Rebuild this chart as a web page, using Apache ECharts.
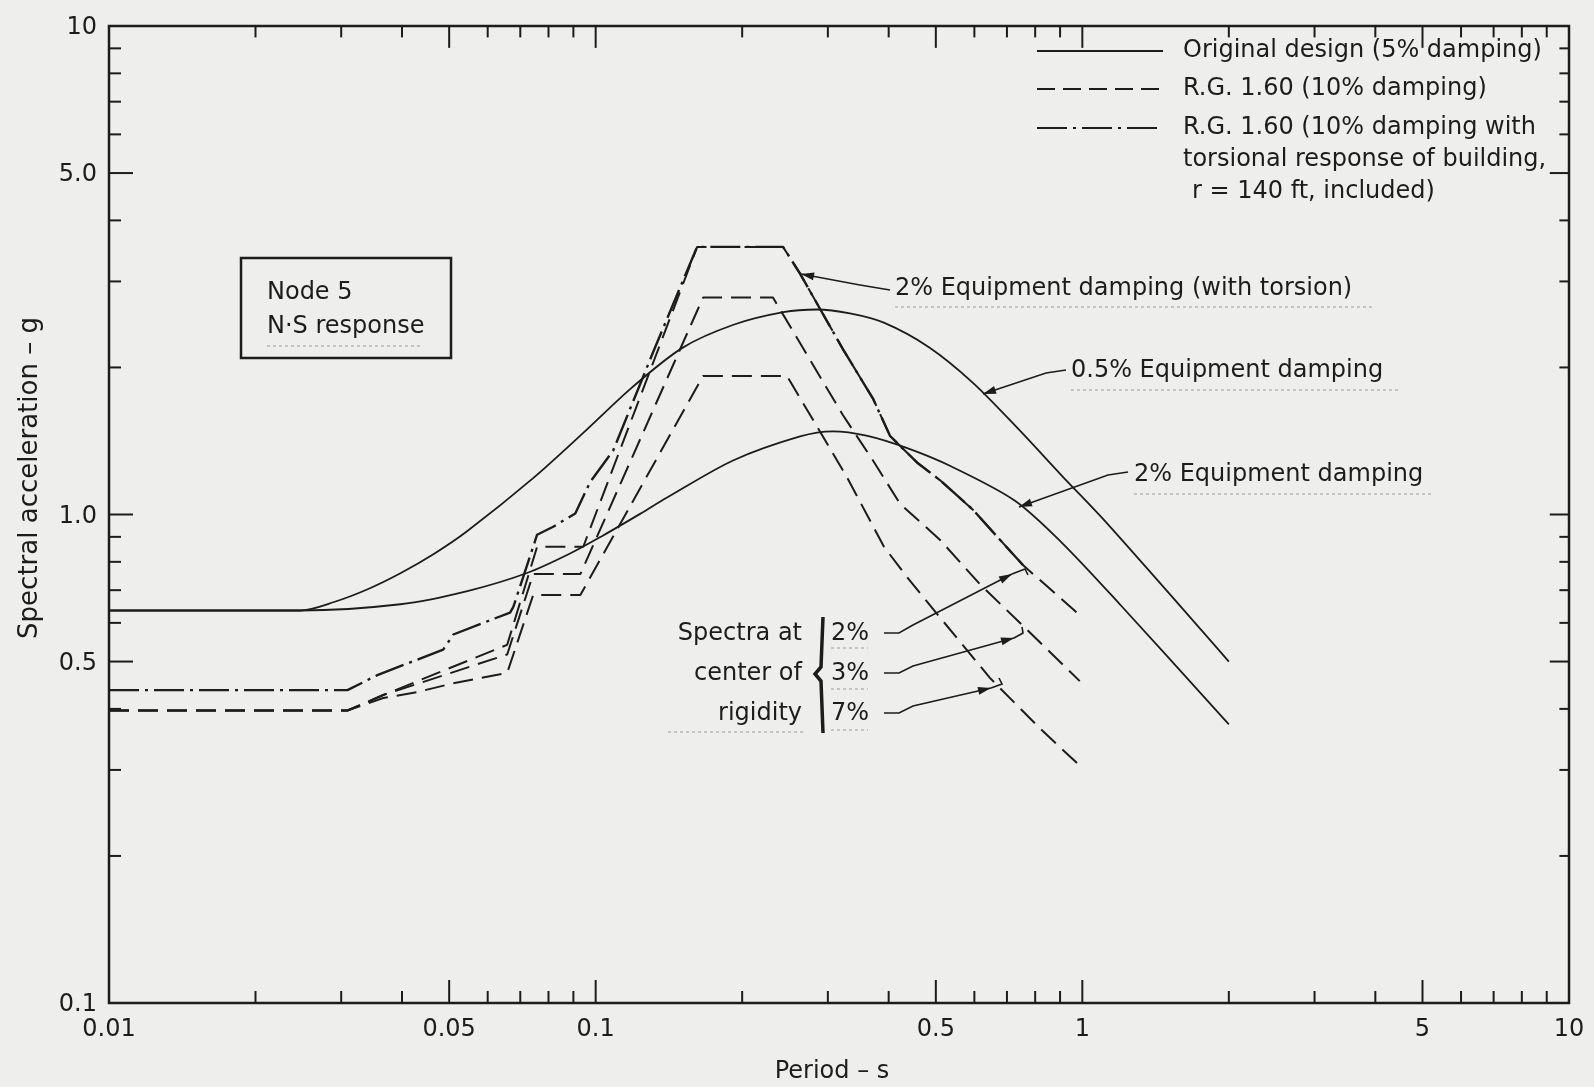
<!DOCTYPE html>
<html>
<head>
<meta charset="utf-8">
<script src="https://cdn.jsdelivr.net/npm/echarts/dist/echarts.min.js"></script>
<style>
html,body{margin:0;padding:0;background:#eeeeec;}
#chart{width:1594px;height:1087px;}
</style>
</head>
<body>
<div id="chart"></div>
<script>
// ---------- axis ranges ----------
const xAxisMin = 0.01, xAxisMax = 10;
const yAxisMin = 0.1, yAxisMax = 10;

// ---------- tick marks & labels ----------
const xMinorTicks = [0.02,0.03,0.04,0.06,0.07,0.08,0.09,0.2,0.3,0.4,0.6,0.7,0.8,0.9,2,3,4,6,7,8,9];
const xMajorTicks = [0.05,0.1,0.5,1,5];
const yMinorTicks = [0.2,0.3,0.4,0.6,0.7,0.8,0.9,2,3,4,6,7,8,9];
const yMajorTicks = [0.5,1,5];
const xLabelValues = [0.01,0.05,0.1,0.5,1,5,10];
const xLabelTexts  = ['0.01','0.05','0.1','0.5','1','5','10'];
const yLabelValues = [0.1,0.5,1,5,10];
const yLabelTexts  = ['0.1','0.5','1.0','5.0','10'];

// ---------- series: [period (s), spectral acceleration (g)] ----------
// Original design, 0.5% equipment damping (solid)
const original05 = [[0.01,0.636],[0.0247,0.636],[0.029,0.662],[0.034,0.703],[0.0397,0.758],[0.0464,0.829],[0.0545,0.925],[0.0744,1.187],[0.0943,1.469],[0.119,1.823],[0.151,2.196],[0.192,2.446],[0.243,2.595],[0.285,2.628],[0.333,2.58],[0.391,2.47],[0.484,2.2],[0.596,1.86],[0.737,1.50],[0.908,1.20],[1.123,0.96],[2.0,0.50]];
// Original design, 2% equipment damping (solid)
const original2 = [[0.01,0.636],[0.0247,0.636],[0.0397,0.655],[0.0545,0.697],[0.0723,0.759],[0.0886,0.832],[0.1036,0.906],[0.1234,1.003],[0.1402,1.083],[0.1915,1.29],[0.263,1.445],[0.3075,1.48],[0.36,1.45],[0.434,1.37],[0.537,1.255],[0.727,1.067],[0.908,0.875],[1.194,0.655],[2.0,0.372]];
// R.G. 1.60, 2% equipment damping with torsion (dash-dot)
const rgTorsion2 = [[0.01,0.437],[0.0309,0.437],[0.0356,0.469],[0.0486,0.529],[0.051,0.568],[0.0667,0.630],[0.0677,0.646],[0.0758,0.909],[0.0818,0.944],[0.0908,1.005],[0.0974,1.165],[0.1086,1.351],[0.1312,2.148],[0.1616,3.53],[0.2427,3.53],[0.263,3.112],[0.3223,2.178],[0.3714,1.727],[0.4025,1.449],[0.4573,1.278],[0.5096,1.176],[0.5958,1.023],[0.677,0.888],[0.755,0.788]];
// R.G. 1.60 at center of rigidity, 2% (dashed)
const rgCenter2 = [[0.01,0.397],[0.0309,0.397],[0.0366,0.427],[0.0658,0.541],[0.0758,0.859],[0.0943,0.859],[0.1616,3.53],[0.2427,3.53],[0.263,3.112],[0.3223,2.178],[0.3714,1.727],[0.4025,1.449],[0.4573,1.278],[0.5096,1.176],[0.5958,1.023],[0.677,0.888],[0.755,0.788],[0.974,0.630]];
// R.G. 1.60 at center of rigidity, 3% (dashed)
const rgCenter3 = [[0.01,0.397],[0.0309,0.397],[0.0366,0.427],[0.0658,0.517],[0.0744,0.755],[0.093,0.755],[0.1662,2.78],[0.2314,2.78],[0.3223,1.596],[0.3714,1.29],[0.422,1.052],[0.5096,0.888],[0.6158,0.72],[0.755,0.592],[0.988,0.456]];
// R.G. 1.60 at center of rigidity, 7% (dashed)
const rgCenter7 = [[0.01,0.397],[0.0309,0.397],[0.0366,0.421],[0.043,0.433],[0.0503,0.45],[0.0658,0.474],[0.0744,0.684],[0.093,0.684],[0.1662,1.921],[0.2473,1.921],[0.3284,1.192],[0.3912,0.859],[0.4361,0.745],[0.5096,0.616],[0.6457,0.463],[0.818,0.365],[0.988,0.306]];

// ---------- styling ----------
const INK = '#1c1c1c';
const FONT = '"DejaVu Sans", "Noto Sans", sans-serif';
const DASH = [20, 9];
const DASHDOT = [30, 6, 3, 6];

const chart = echarts.init(document.getElementById('chart'), null, {renderer: 'canvas'});

function xTickSeries(values, len) {
  return {
    type: 'custom', silent: true, z: 5, clip: false,
    data: values.map(v => [v, yAxisMin]),
    renderItem: function (params, api) {
      const v = api.value(0);
      const b = api.coord([v, yAxisMin]);
      const t = api.coord([v, yAxisMax]);
      return {type: 'group', children: [
        {type: 'line', shape: {x1: b[0], y1: b[1], x2: b[0], y2: b[1] - len}, style: {stroke: INK, lineWidth: 2}},
        {type: 'line', shape: {x1: t[0], y1: t[1], x2: t[0], y2: t[1] + len * 0.95}, style: {stroke: INK, lineWidth: 2}}
      ]};
    }
  };
}
function yTickSeries(values, len) {
  return {
    type: 'custom', silent: true, z: 5, clip: false,
    data: values.map(v => [xAxisMin, v]),
    renderItem: function (params, api) {
      const v = api.value(1);
      const l = api.coord([xAxisMin, v]);
      const r = api.coord([xAxisMax, v]);
      return {type: 'group', children: [
        {type: 'line', shape: {x1: l[0], y1: l[1], x2: l[0] + len, y2: l[1]}, style: {stroke: INK, lineWidth: 2}},
        {type: 'line', shape: {x1: r[0], y1: r[1], x2: r[0] - len * 0.8, y2: r[1]}, style: {stroke: INK, lineWidth: 2}}
      ]};
    }
  };
}
function xLabelSeries() {
  return {
    type: 'custom', silent: true, z: 5, clip: false,
    data: xLabelValues.map((v, i) => [v, yAxisMin, i]),
    renderItem: function (params, api) {
      const p = api.coord([api.value(0), yAxisMin]);
      return {type: 'text', x: p[0], y: p[1] + 27,
        style: {text: xLabelTexts[api.value(2)], font: '24px ' + FONT, fill: INK, align: 'center', verticalAlign: 'middle'}};
    }
  };
}
function yLabelSeries() {
  return {
    type: 'custom', silent: true, z: 5, clip: false,
    data: yLabelValues.map((v, i) => [xAxisMin, v, i]),
    renderItem: function (params, api) {
      const p = api.coord([xAxisMin, api.value(1)]);
      return {type: 'text', x: p[0] - 12, y: p[1] + 2,
        style: {text: yLabelTexts[api.value(2)], font: '24px ' + FONT, fill: INK, align: 'right', verticalAlign: 'middle'}};
    }
  };
}
function lineSeries(name, data, type, width, smooth) {
  return {
    type: 'line', name: name, data: data, symbol: 'none', showSymbol: false,
    smooth: smooth ? 0.3 : false,
    silent: true, z: 3,
    lineStyle: {color: INK, width: width, type: type}
  };
}

// ---------- annotation helpers (pixel placed) ----------
function arrow(points, smooth) {
  const n = points.length;
  const x2 = points[n - 1][0], y2 = points[n - 1][1];
  const x1 = points[n - 2][0], y1 = points[n - 2][1];
  const a = Math.atan2(y2 - y1, x2 - x1), L = 13, W = 4;
  const p1 = [x2 - L * Math.cos(a) + W * Math.sin(a), y2 - L * Math.sin(a) - W * Math.cos(a)];
  const p2 = [x2 - L * Math.cos(a) - W * Math.sin(a), y2 - L * Math.sin(a) + W * Math.cos(a)];
  return [
    {type: 'polyline', shape: {points: points, smooth: smooth || 0}, style: {stroke: INK, lineWidth: 1.6, fill: null}, z: 10},
    {type: 'polygon', shape: {points: [[x2, y2], p1, p2]}, style: {fill: INK}, z: 10}
  ];
}
function txt(x, y, s, align, size) {
  return {type: 'text', x: x, y: y, z: 10,
    style: {text: s, font: (size || 24) + 'px ' + FONT, fill: INK, align: align || 'left', verticalAlign: 'middle'}};
}
function hline(x1, x2, y, dash, w, color) {
  return {type: 'line', z: 10, shape: {x1: x1, y1: y, x2: x2, y2: y},
    style: {stroke: color || INK, lineWidth: w || 2, lineDash: dash || null}};
}
function faint(x1, x2, y) { return hline(x1, x2, y, [3, 3], 1, '#9a9a9a'); }

const graphics = [].concat(
  // legend
  [hline(1037, 1163, 51, null, 2), hline(1037, 1163, 89, [18, 8], 2), hline(1037, 1163, 128, DASHDOT, 2),
   txt(1183, 51, 'Original design (5% damping)'),
   txt(1183, 89, 'R.G. 1.60 (10% damping)'),
   txt(1183, 128, 'R.G. 1.60 (10% damping with'),
   txt(1183, 160, 'torsional response of building,'),
   txt(1192, 192, 'r = 140 ft, included)')],
  // node box
  [{type: 'rect', z: 10, shape: {x: 241, y: 258, width: 210, height: 100}, style: {fill: 'transparent', stroke: INK, lineWidth: 2.5}},
   txt(267, 293, 'Node 5'), txt(267, 327, 'N·S response'), faint(267, 420, 346)],
  // curve labels
  [txt(895, 289, '2% Equipment damping (with torsion)'), faint(895, 1374, 307),
   txt(1071, 371, '0.5% Equipment damping'), faint(1071, 1398, 390),
   txt(1134, 475, '2% Equipment damping'), faint(1134, 1432, 494)],
  arrow([[890, 290], [860, 285], [801, 274]]),
  arrow([[1066, 370], [1046, 373], [983, 394]]),
  arrow([[1128, 472], [1108, 475], [1019, 507]]),
  // spectra at center of rigidity
  [txt(802, 634, 'Spectra at', 'right'), txt(802, 674, 'center of', 'right'), txt(802, 714, 'rigidity', 'right'),
   faint(668, 804, 732),
   {type: 'polyline', z: 10, shape: {points: [[823, 617], [821, 667], [815, 674], [821, 681], [823, 733]]}, style: {stroke: INK, lineWidth: 3.5, fill: null}},
   txt(831, 634, '2%'), txt(831, 674, '3%'), txt(831, 714, '7%'),
   faint(831, 868, 648), faint(831, 868, 689), faint(831, 868, 730)],
  arrow([[884, 633], [899, 633], [913, 625], [1012, 574]]),
  [{type: 'polyline', z: 10, shape: {points: [[1012, 574], [1025, 569], [1028, 575]]}, style: {stroke: INK, lineWidth: 1.6, fill: null}}],
  arrow([[884, 673], [899, 673], [913, 666], [1014, 638]]),
  [{type: 'polyline', z: 10, shape: {points: [[1014, 638], [1023, 633], [1022, 627]]}, style: {stroke: INK, lineWidth: 1.6, fill: null}}],
  arrow([[884, 713], [899, 713], [913, 706], [991, 688]]),
  [{type: 'polyline', z: 10, shape: {points: [[991, 688], [1002, 684], [999, 678]]}, style: {stroke: INK, lineWidth: 1.6, fill: null}}],
  // axis titles
  [{type: 'text', x: 30, y: 478, rotation: Math.PI / 2, z: 10,
    style: {text: 'Spectral acceleration – g', font: '26px ' + FONT, fill: INK, align: 'center', verticalAlign: 'middle'}},
   txt(832, 1072, 'Period – s', 'center', 24)]
);

const option = {
  backgroundColor: '#eeeeec',
  animation: false,
  grid: {left: 109, right: 25, top: 26, bottom: 84, show: true, borderColor: INK, borderWidth: 2.5, backgroundColor: 'transparent'},
  xAxis: {type: 'log', logBase: 10, min: xAxisMin, max: xAxisMax,
    axisLine: {show: false}, axisTick: {show: false}, axisLabel: {show: false}, splitLine: {show: false}},
  yAxis: {type: 'log', logBase: 10, min: yAxisMin, max: yAxisMax,
    axisLine: {show: false}, axisTick: {show: false}, axisLabel: {show: false}, splitLine: {show: false}},
  series: [
    lineSeries('Original design 0.5% equipment damping', original05, 'solid', 1.8, true),
    lineSeries('Original design 2% equipment damping', original2, 'solid', 1.8, true),
    lineSeries('R.G. 1.60 2% with torsion', rgTorsion2, DASHDOT, 2.4, false),
    lineSeries('R.G. 1.60 center 2%', rgCenter2, DASH, 2, false),
    lineSeries('R.G. 1.60 center 3%', rgCenter3, DASH, 2, false),
    lineSeries('R.G. 1.60 center 7%', rgCenter7, DASH, 2, false),
    xTickSeries(xMinorTicks, 12),
    xTickSeries(xMajorTicks, 23),
    yTickSeries(yMinorTicks, 12),
    yTickSeries(yMajorTicks, 24),
    xLabelSeries(),
    yLabelSeries()
  ],
  graphic: graphics
};
chart.setOption(option);
</script>
</body>
</html>
